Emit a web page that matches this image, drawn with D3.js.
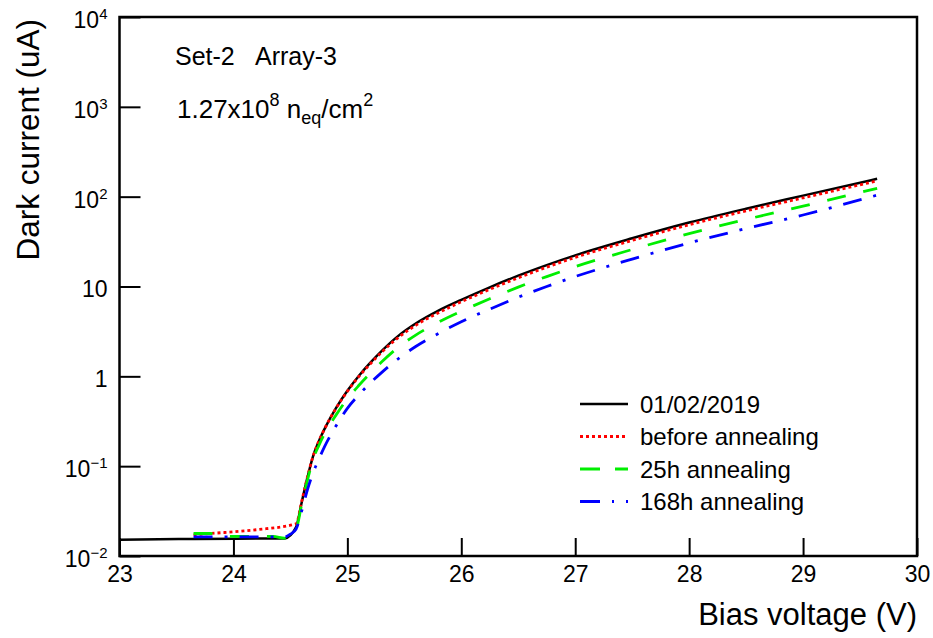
<!DOCTYPE html>
<html><head><meta charset="utf-8">
<script src="https://cdn.jsdelivr.net/npm/d3@7"></script>
<style>
body{margin:0;background:#fff}
text{font-family:"Liberation Sans",Arial,Helvetica,sans-serif;fill:#000}
</style>
</head><body>
<svg id="chart" width="933" height="638"></svg>
<script>
// ---------- data ----------
const xTickValues = [23, 24, 25, 26, 27, 28, 29, 30];
const yDecadeExponents = [-2, -1, 0, 1, 2, 3, 4];
const seriesLabels = ["01/02/2019", "before annealing", "25h annealing", "168h annealing"];

const blackV = [23.0, 23.65, 24.45, 24.55, 24.6, 24.65, 24.7, 24.75, 24.8, 24.9, 25.0, 25.1, 25.2, 25.3, 25.45, 25.6, 25.8, 26.0, 26.25, 26.5, 26.75, 27.0, 27.5, 28.0, 28.5, 29.0, 29.65];
const blackI = [0.0152, 0.0155, 0.0157, 0.021, 0.04, 0.075, 0.13, 0.19, 0.26, 0.442, 0.69, 1.01, 1.41, 1.91, 2.84, 3.87, 5.39, 7.1, 9.8, 13.2, 17.3, 22.2, 34.4, 51.5, 73.5, 102.7, 158];

const redV = [23.65, 23.8, 24.2, 24.55, 24.6, 24.65, 24.7, 24.75, 24.8, 24.9, 25.0, 25.1, 25.2, 25.3, 25.45, 25.6, 25.8, 26.0, 26.25, 26.5, 26.75, 27.0, 27.5, 28.0, 28.5, 29.0, 29.65];
const redI = [0.0172, 0.0178, 0.0196, 0.0228, 0.041, 0.076, 0.13, 0.19, 0.26, 0.44, 0.68, 0.99, 1.37, 1.85, 2.72, 3.7, 5.1, 6.75, 9.3, 12.5, 16.4, 21.1, 32.6, 48.8, 69.5, 97, 150];

const greenV = [23.65, 23.8, 23.85, 24.35, 24.45, 24.55, 24.6, 24.65, 24.7, 24.75, 24.8, 24.9, 25.0, 25.1, 25.2, 25.3, 25.45, 25.6, 25.8, 26.0, 26.25, 26.5, 26.75, 27.0, 27.5, 28.0, 28.5, 29.0, 29.65];
const greenI = [0.0178, 0.0178, 0.0166, 0.0165, 0.0158, 0.02, 0.038, 0.07, 0.12, 0.17, 0.23, 0.37, 0.56, 0.79, 1.08, 1.44, 2.12, 2.88, 4.0, 5.3, 7.3, 9.85, 12.9, 16.6, 25.8, 38.8, 55.8, 78.5, 124];

const blueV = [23.65, 24.45, 24.5, 24.55, 24.6, 24.65, 24.7, 24.75, 24.8, 24.9, 25.0, 25.1, 25.2, 25.3, 25.45, 25.6, 25.8, 26.0, 26.25, 26.5, 26.75, 27.0, 27.5, 28.0, 28.5, 29.0, 29.65];
const blueI = [0.0163, 0.0163, 0.0175, 0.02, 0.032, 0.055, 0.085, 0.12, 0.165, 0.28, 0.44, 0.62, 0.84, 1.1, 1.58, 2.15, 3.0, 4.05, 5.6, 7.6, 10.0, 12.9, 20.2, 30.5, 44.2, 62.5, 104];

// ---------- layout ----------
const L = 119.5, R = 917, T = 17, B = 556;
const svg = d3.select("#chart");
const x = d3.scaleLinear().domain([23, 30]).range([L, R]);
const y = d3.scaleLog().domain([0.01, 1e4]).range([B, T]);

const series = [
  {name: seriesLabels[0], v: blackV, i: blackI, color: "#000000", dash: null, w: 2.5},
  {name: seriesLabels[1], v: redV, i: redI, color: "#ff0000", dash: "3,3", w: 2.8},
  {name: seriesLabels[2], v: greenV, i: greenI, color: "#00ee00", dash: "19,18", w: 2.8},
  {name: seriesLabels[3], v: blueV, i: blueI, color: "#0000ff", dash: "19,12,3,12", w: 2.8}
];

const line = d3.line().x(d => x(d[0])).y(d => y(d[1])).curve(d3.curveMonotoneX);
series.forEach(s => {
  svg.append("path")
    .datum(s.v.map((v, j) => [v, s.i[j]]))
    .attr("d", line)
    .attr("fill", "none")
    .attr("stroke", s.color)
    .attr("stroke-width", s.w)
    .attr("stroke-dasharray", s.dash)
    .attr("stroke-linejoin", "round");
});

// x axis
const xMinor = [];
for (let a = 23; a < 30; a++) for (let b = 1; b < 5; b++) xMinor.push(+(a + b * 0.2).toFixed(1));
const gx = svg.append("g").attr("transform", `translate(0,${B})`);
gx.call(d3.axisBottom(x).tickValues(xMinor).tickSize(-9).tickFormat(""));
gx.call(d3.axisBottom(x).tickValues(xTickValues).tickSize(-18).tickPadding(10).tickFormat(d3.format("d")));
gx.selectAll(".domain").remove();
gx.selectAll("line").attr("stroke", "#000").attr("stroke-width", 2);
gx.selectAll("text").attr("font-size", 23).attr("font-family", "Liberation Sans, Arial, sans-serif").attr("fill", "#000");

// y axis
const yMinor = [];
for (let e = -2; e < 4; e++) for (let m = 2; m <= 9; m++) yMinor.push(m * Math.pow(10, e));
const gy = svg.append("g").attr("transform", `translate(${L},0)`);
gy.call(d3.axisLeft(y).tickValues(yMinor).tickSize(-10).tickFormat(""));
gy.call(d3.axisLeft(y).tickValues(yDecadeExponents.map(e => Math.pow(10, e))).tickSize(-21).tickPadding(12).tickFormat(""));
gy.selectAll(".domain").remove();
gy.selectAll("line").attr("stroke", "#000").attr("stroke-width", 2);
gy.selectAll(".tick").each(function(d) {
  const e = Math.round(Math.log10(d));
  if (Math.abs(d - Math.pow(10, e)) > 1e-9 * Math.pow(10, e)) return;
  const t = d3.select(this).select("text");
  t.attr("font-size", 23).attr("x", -12).attr("dy", "0.45em").attr("text-anchor", "end")
   .attr("font-family", "Liberation Sans, Arial, sans-serif").attr("fill", "#000");
  if (e === 0) t.text("1");
  else if (e === 1) t.text("10");
  else {
    t.text("10");
    t.append("tspan").attr("font-size", 15).attr("dy", "-0.6em").text(e < 0 ? "\u2212" + (-e) : String(e));
  }
});

// frame
svg.append("rect").attr("x", L).attr("y", T).attr("width", R - L).attr("height", B - T)
  .attr("fill", "none").attr("stroke", "#000").attr("stroke-width", 2.5);

// axis titles
svg.append("text").attr("x", R).attr("y", 625).attr("text-anchor", "end")
  .attr("font-size", 31).text("Bias voltage (V)");
svg.append("text").attr("transform", `translate(39,${T + 2}) rotate(-90)`).attr("text-anchor", "end")
  .attr("font-size", 31.5).text("Dark current (uA)");

// annotation
const a1 = svg.append("text").attr("x", 175).attr("y", 65).attr("font-size", 25);
a1.append("tspan").text("Set-2");
a1.append("tspan").attr("x", 255).text("Array-3");
const a2 = svg.append("text").attr("x", 177).attr("y", 118).attr("font-size", 26);
a2.append("tspan").text("1.27x10");
a2.append("tspan").attr("font-size", 18).attr("dy", -12).text("8");
a2.append("tspan").attr("dy", 12).text(" n");
a2.append("tspan").attr("font-size", 18).attr("dy", 6).text("eq");
a2.append("tspan").attr("dy", -6).text("/cm");
a2.append("tspan").attr("font-size", 18).attr("dy", -12).text("2");

// legend
const legTop = 404, legStep = 32.5;
series.forEach((s, k) => {
  const cy = legTop + k * legStep;
  svg.append("line").attr("x1", 580).attr("x2", 628).attr("y1", cy).attr("y2", cy)
    .attr("stroke", s.color).attr("stroke-width", s.w).attr("stroke-dasharray", k === 2 ? "20,15" : (k === 3 ? "20,12,2,12" : s.dash));
  svg.append("text").attr("x", 640).attr("y", cy + 8.5).attr("font-size", 24).text(s.name);
});
</script>
</body></html>
